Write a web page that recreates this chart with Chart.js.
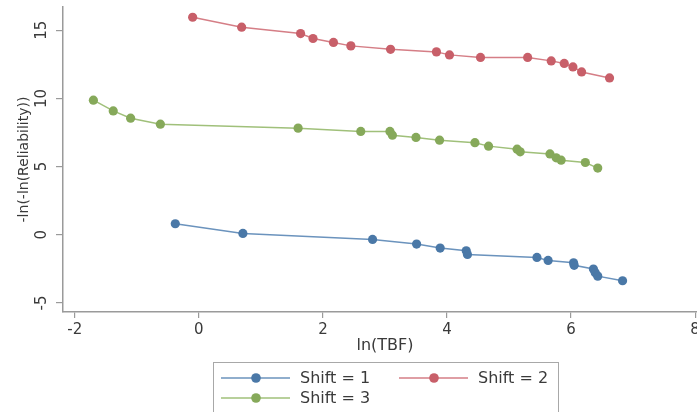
<!DOCTYPE html>
<html>
<head>
<meta charset="utf-8">
<script src="https://cdn.jsdelivr.net/npm/chart.js@4.4.1/dist/chart.umd.min.js"></script>
<style>
  html, body { margin: 0; padding: 0; background: #fff; }
  canvas { display: block; }
</style>
</head>
<body>
<canvas id="chart" width="697" height="412"></canvas>
<script>
// ===== Data =====
const shift1X = [-0.38, 0.71, 2.80, 3.51, 3.89, 4.31, 4.33, 5.45, 5.63, 6.04, 6.05, 6.36, 6.39, 6.43, 6.83];
const shift1Y = [0.81, 0.10, -0.34, -0.68, -0.97, -1.17, -1.44, -1.66, -1.88, -2.05, -2.24, -2.51, -2.78, -3.03, -3.37];

const shift2X = [-0.10, 0.69, 1.64, 1.84, 2.17, 2.45, 3.09, 3.83, 4.04, 4.54, 5.30, 5.68, 5.89, 6.03, 6.17, 6.62];
const shift2Y = [15.95, 15.22, 14.75, 14.39, 14.10, 13.85, 13.60, 13.41, 13.19, 13.00, 13.00, 12.75, 12.56, 12.31, 11.94, 11.50];

const shift3X = [-1.70, -1.38, -1.10, -0.62, 1.60, 2.61, 3.08, 3.12, 3.50, 3.88, 4.45, 4.67, 5.13, 5.18, 5.66, 5.76, 5.84, 6.23, 6.43];
const shift3Y = [9.87, 9.08, 8.55, 8.11, 7.82, 7.58, 7.58, 7.30, 7.14, 6.94, 6.75, 6.50, 6.28, 6.08, 5.93, 5.64, 5.47, 5.30, 4.89];

const seriesLabels = ['Shift = 1', 'Shift = 2', 'Shift = 3'];
const xTicks = [-2, 0, 2, 4, 6, 8];
const yTicks = [-5, 0, 5, 10, 15];

// ===== Styles =====
const FONT = '"DejaVu Sans", sans-serif';
const markerColors = ['#4a78a7', '#c85f69', '#86a95a'];
const lineColors = ['#6b93bd', '#d57e86', '#a0c07a'];
const axisColor = '#9a9a9a';
const textColor = '#3a3a3a';

const pts = (xs, ys) => xs.map((x, i) => ({ x, y: ys[i] }));
const allSeries = [pts(shift1X, shift1Y), pts(shift2X, shift2Y), pts(shift3X, shift3Y)];

// ===== Stretch plot to the right edge, draw tick labels + boxed legend =====
const extraDraw = {
  id: 'extraDraw',
  afterLayout(chart) {
    const xs = chart.scales.x, a = chart.chartArea;
    a.right = chart.width; a.width = a.right - a.left;
    xs.right = chart.width; xs.width = xs.right - xs.left;
    xs.configure();
  },
  afterDraw(chart) {
    const ctx = chart.ctx, xs = chart.scales.x, ys = chart.scales.y;
    ctx.save();
    ctx.fillStyle = textColor;
    ctx.font = '15px ' + FONT;
    ctx.textAlign = 'center';
    ctx.textBaseline = 'middle';
    yTicks.forEach(v => {
      ctx.save();
      ctx.translate(42, ys.getPixelForValue(v));
      ctx.rotate(-Math.PI / 2);
      ctx.fillText(String(v), 0, 0);
      ctx.restore();
    });
    xTicks.forEach(v => {
      ctx.fillText(String(v), xs.getPixelForValue(v), xs.top + 18);
    });
    ctx.font = '16px ' + FONT;
    ctx.fillText('ln(TBF)', 385, 346);

    // legend box
    ctx.strokeStyle = '#a8a8a8';
    ctx.lineWidth = 1;
    ctx.strokeRect(213.5, 362.5, 345, 60);
    const slots = [[221, 378], [399, 378], [221, 398]];
    chart.data.datasets.forEach((ds, i) => {
      const [lx, ly] = slots[i];
      ctx.strokeStyle = ds.borderColor;
      ctx.lineWidth = 1.5;
      ctx.beginPath(); ctx.moveTo(lx, ly); ctx.lineTo(lx + 69, ly); ctx.stroke();
      ctx.fillStyle = ds.pointBackgroundColor;
      ctx.beginPath(); ctx.arc(lx + 35, ly, 4.8, 0, Math.PI * 2); ctx.fill();
      ctx.fillStyle = textColor;
      ctx.textAlign = 'left';
      ctx.fillText(ds.label, lx + 79, ly + 1);
    });
    ctx.restore();
  }
};

// ===== Chart =====
new Chart(document.getElementById('chart'), {
  type: 'line',
  data: {
    datasets: allSeries.map((data, i) => ({
      label: seriesLabels[i],
      data,
      borderColor: lineColors[i],
      borderWidth: 1.5,
      pointBackgroundColor: markerColors[i],
      pointBorderWidth: 0,
      pointRadius: 4.6,
      tension: 0,
      fill: false
    }))
  },
  options: {
    responsive: false,
    animation: false,
    events: [],
    layout: { padding: { top: 7, right: 0, bottom: 57, left: 0 } },
    plugins: { legend: { display: false }, tooltip: { enabled: false } },
    scales: {
      x: {
        type: 'linear',
        min: -2.19, max: 8.03,
        afterBuildTicks: s => { s.ticks = xTicks.map(v => ({ value: v })); },
        afterFit: s => { s.height = 43; },
        grid: { drawOnChartArea: false, drawTicks: true, tickLength: 6, color: axisColor, lineWidth: 1.2 },
        border: { display: true, color: axisColor, width: 1.5 },
        ticks: { display: false }
      },
      y: {
        min: -5.66, max: 16.7,
        afterBuildTicks: s => { s.ticks = yTicks.map(v => ({ value: v })); },
        afterFit: s => { s.width = 63; },
        grid: { drawOnChartArea: false, drawTicks: true, tickLength: 7, color: axisColor, lineWidth: 1.2 },
        border: { display: true, color: axisColor, width: 1.5 },
        ticks: { display: false },
        title: { display: true, text: '-ln(-ln(Reliability))', color: textColor, font: { family: FONT, size: 14 }, padding: { top: 16, bottom: 0 } }
      }
    }
  },
  plugins: [extraDraw]
});
</script>
</body>
</html>
